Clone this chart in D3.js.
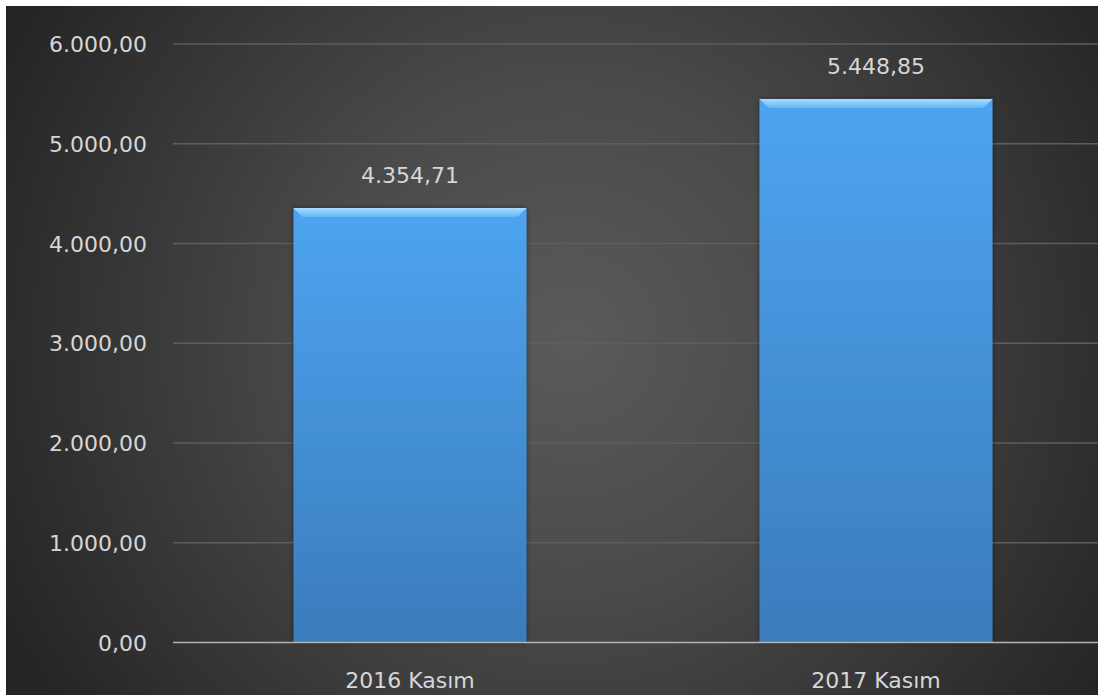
<!DOCTYPE html>
<meta charset="utf-8">
<style>
body { margin: 0; background: #fff; }
text { font-family: "DejaVu Sans", sans-serif; fill: #d6d6d6; }
.grid line { stroke: #5e5e5e; stroke-width: 1.5px; }
</style>
<svg width="1098" height="695"></svg>
<script src="https://cdn.jsdelivr.net/npm/d3@7"></script>
<script>

var categories = ["2016 Kasım", "2017 Kasım"];
var values = [4354.71, 5448.85];
var yTicks = [0, 1000, 2000, 3000, 4000, 5000, 6000];

var svg = d3.select("svg"),
    width = +svg.attr("width"),
    height = +svg.attr("height");

var tr = d3.formatLocale({decimal: ",", thousands: ".", grouping: [3], currency: ["", " ₺"]});
var fmt = tr.format(",.2f");

var defs = svg.append("defs");

var bg = defs.append("radialGradient")
    .attr("id", "bg")
    .attr("gradientUnits", "userSpaceOnUse")
    .attr("cx", 570).attr("cy", 340).attr("r", 640);
bg.append("stop").attr("offset", 0).attr("stop-color", "#5a5a5a");
bg.append("stop").attr("offset", 0.4).attr("stop-color", "#4a4a4a");
bg.append("stop").attr("offset", 1).attr("stop-color", "#242424");

var barGrad = defs.append("linearGradient")
    .attr("id", "bar").attr("x1", 0).attr("y1", 0).attr("x2", 0).attr("y2", 1);
barGrad.append("stop").attr("offset", 0).attr("stop-color", "#4ea4f0");
barGrad.append("stop").attr("offset", 1).attr("stop-color", "#3a7cbc");

var bevel = defs.append("linearGradient")
    .attr("id", "bevel").attr("x1", 0).attr("y1", 0).attr("x2", 0).attr("y2", 1);
bevel.append("stop").attr("offset", 0).attr("stop-color", "#a6ddff");
bevel.append("stop").attr("offset", 1).attr("stop-color", "#62b6f8");

var shadow = defs.append("filter").attr("id", "shadow")
    .attr("x", "-10%").attr("y", "-10%").attr("width", "120%").attr("height", "120%");
shadow.append("feDropShadow")
    .attr("dx", 0).attr("dy", 0).attr("stdDeviation", 2.5)
    .attr("flood-color", "#000").attr("flood-opacity", 0.45);

// background (white strip top / left like the original screenshot)
svg.append("rect")
    .attr("x", 6).attr("y", 6)
    .attr("width", width - 6).attr("height", height - 6)
    .attr("fill", "url(#bg)");

var x = d3.scaleBand()
    .domain(categories)
    .range([177, 1109])
    .paddingInner(0.5)
    .paddingOuter(0.25);

var y = d3.scaleLinear()
    .domain([0, 6000])
    .range([642.5, 44]);

// gridlines
svg.append("g")
    .attr("class", "grid")
  .selectAll("line")
  .data(yTicks.filter(function(d) { return d > 0; }))
  .enter().append("line")
    .attr("x1", 173).attr("x2", width)
    .attr("y1", function(d) { return y(d); })
    .attr("y2", function(d) { return y(d); });

// y axis labels
svg.append("g")
  .selectAll("text")
  .data(yTicks)
  .enter().append("text")
    .attr("x", 147)
    .attr("y", function(d) { return y(d) + 8; })
    .attr("text-anchor", "end")
    .style("font-size", "22px")
    .text(function(d) { return fmt(d); });

// bars
var bars = svg.append("g")
  .selectAll("g")
  .data(values)
  .enter().append("g");

bars.append("rect")
    .attr("x", function(d, i) { return x(categories[i]); })
    .attr("y", function(d) { return y(d); })
    .attr("width", x.bandwidth())
    .attr("height", function(d) { return y(0) - y(d); })
    .attr("fill", "url(#bar)")
    .attr("filter", "url(#shadow)");

bars.append("path")
    .attr("fill", "url(#bevel)")
    .attr("d", function(d, i) {
      var x0 = x(categories[i]), x1 = x0 + x.bandwidth(), y0 = y(d), b = 9;
      return "M" + x0 + "," + y0 + "L" + x1 + "," + y0 +
             "L" + (x1 - b) + "," + (y0 + b) + "L" + (x0 + b) + "," + (y0 + b) + "Z";
    });

// value labels
bars.append("text")
    .attr("x", function(d, i) { return x(categories[i]) + x.bandwidth() / 2; })
    .attr("y", function(d) { return y(d) - 25; })
    .attr("text-anchor", "middle")
    .style("font-size", "22px")
    .text(function(d) { return fmt(d); });

// base axis line
svg.append("line")
    .attr("x1", 173).attr("x2", width)
    .attr("y1", y(0)).attr("y2", y(0))
    .attr("stroke", "#b4b4b4")
    .attr("stroke-width", 1.5);

// category labels
svg.append("g")
  .selectAll("text")
  .data(categories)
  .enter().append("text")
    .attr("x", function(d) { return x(d) + x.bandwidth() / 2; })
    .attr("y", 688)
    .attr("text-anchor", "middle")
    .style("font-size", "22px")
    .text(function(d) { return d; });

</script>
